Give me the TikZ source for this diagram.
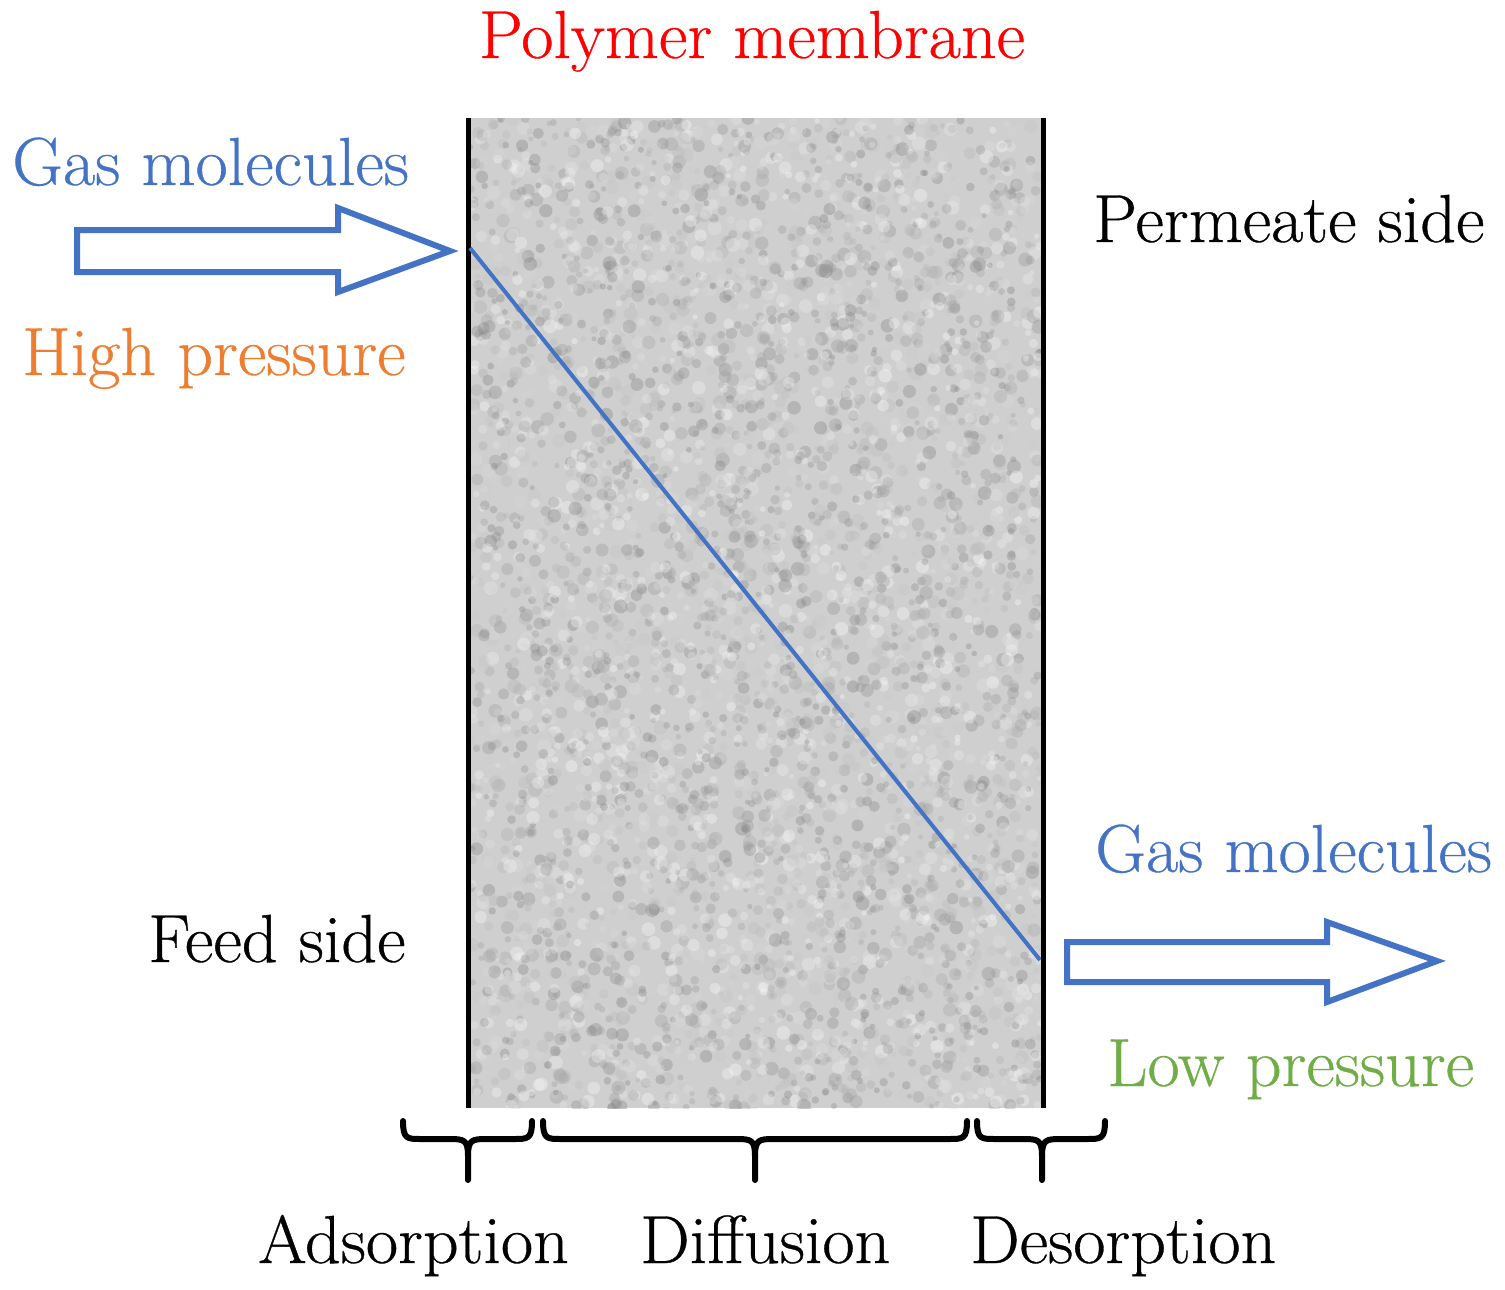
\documentclass[tikz,border=0pt]{standalone}
\usepackage{fontspec}
\newfontfamily\lblfont{Latin Modern Roman}[FakeStretch=1.03, FakeBold=0.5]
\definecolor{gblue}{RGB}{68,114,196}
\definecolor{gorange}{RGB}{237,125,49}
\definecolor{ggreen}{RGB}{112,173,71}
\definecolor{gred}{RGB}{255,0,0}
\tikzset{
  lbl/.style={inner sep=0pt, font=\lblfont\fontsize{68}{80}\selectfont, anchor=base west},
  fatarrow/.style={draw=gblue, line width=6pt, line join=miter, fill=white},
  bracepath/.style={line width=6pt, line cap=round, line join=round},
  wall/.style={line width=5pt}
}
\begin{document}
\begin{tikzpicture}[x=1pt,y=-1pt]
\useasboundingbox (0,0) rectangle (1505,1290);
% membrane body with noise texture
\begin{scope}
  \clip (470,118) rectangle (1041,1108);
  \fill[gray!38] (470,118) rectangle (1041,1108);
  \pgfmathsetseed{7}
  \foreach \i in {1,...,5200}{
    \pgfmathsetmacro\px{470+571*rnd}
    \pgfmathsetmacro\py{118+990*rnd}
    \pgfmathsetmacro\rr{2.5+4.5*rnd}
    \pgfmathsetmacro\gg{0.5+0.5*rnd}
    \definecolor{blob}{gray}{\gg}
    \fill[blob, opacity=0.35] (\px,\py) circle (\rr);
  }
\end{scope}
% walls
\coordinate (lt) at (468,118); \coordinate (lb) at (468,1108);
\coordinate (rt) at (1043,118); \coordinate (rb) at (1043,1108);
\draw[wall] (lt) -- (lb);
\draw[wall] (rt) -- (rb);
% concentration line
\coordinate (c1) at (470,248); \coordinate (c2) at (1040,960);
\draw[gblue, line width=4pt] (c1) -- (c2);
% arrows
\draw[fatarrow] (77,230) -- (338,230) -- (338,208) -- (450,251) -- (338,292) -- (338,272) -- (77,272) -- cycle;
\draw[fatarrow] (1067,942) -- (1327,942) -- (1327,922) -- (1437,961) -- (1327,1002) -- (1327,982) -- (1067,982) -- cycle;
% braces
\foreach \L/\C/\R in {403/468/532, 543/755/967, 977/1042/1105}{
  \draw[bracepath] (\L,1121) .. controls (\L,1139) and (\L+4,1139) .. (\L+18,1139) -- (\C-18,1139) .. controls (\C-4,1139) and (\C,1140) .. (\C,1156) -- (\C,1180);
  \draw[bracepath] (\R,1121) .. controls (\R,1139) and (\R-4,1139) .. (\R-18,1139) -- (\C+18,1139) .. controls (\C+4,1139) and (\C,1140) .. (\C,1156);
}
% labels
\node[lbl, anchor=base, text=gred] (pm) at (752,58) {Polymer membrane};
\node[lbl, text=gblue] (gm1) at (12,185) {Gas molecules};
\node[lbl, text=gorange] (hp) at (22,375) {High pressure};
\node[lbl] (ps) at (1093,242) {Permeate side};
\node[lbl] (fs) at (148,962) {Feed side};
\node[lbl, text=gblue] (gm2) at (1095,872) {Gas molecules};
\node[lbl, text=ggreen] (lp) at (1107,1086) {Low pressure};
\node[lbl] (ad) at (258,1263) {Adsorption};
\node[lbl] (di) at (640,1263) {Diffusion};
\node[lbl] (de) at (970,1263) {Desorption};
\end{tikzpicture}
\end{document}
